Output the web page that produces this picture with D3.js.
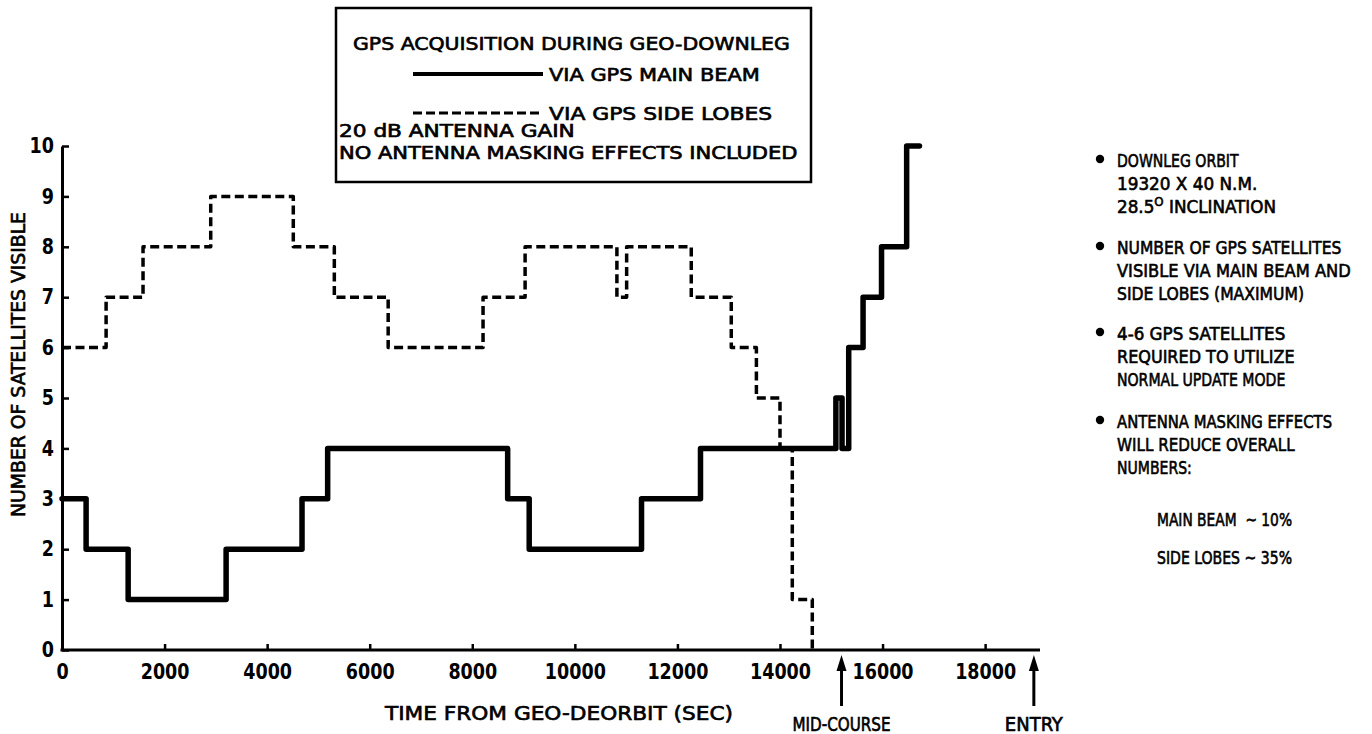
<!DOCTYPE html>
<html><head><meta charset="utf-8">
<script src="https://cdn.jsdelivr.net/npm/d3@7"></script>
<style>
body{margin:0;background:#fff}
svg{display:block;background:#fff}
text{font-family:"DejaVu Sans Condensed","DejaVu Sans",sans-serif;fill:#000}
.thick{stroke:#000;stroke-width:0.6px}
</style>
</head><body><svg id="c" width="1372" height="734"></svg>
<script>
// ---------- data ----------
const xTicks = [0, 2000, 4000, 6000, 8000, 10000, 12000, 14000, 16000, 18000];
const yTicks = [0, 1, 2, 3, 4, 5, 6, 7, 8, 9, 10];
const mainTimes  = [0, 470, 1290, 3200, 4680, 5180, 8690, 9110, 11300, 12450, 15090, 15210, 15340, 15620, 15980, 16470, 16720];
const mainValues = [3, 2, 1, 2, 3, 4, 3, 2, 3, 4, 5, 4, 6, 7, 8, 10, 10];
const sideTimes  = [0, 860, 1580, 2900, 4510, 5310, 6360, 8210, 9030, 10820, 11010, 12270, 13050, 13540, 14000, 14240, 14630];
const sideValues = [6, 7, 8, 9, 8, 7, 6, 7, 8, 7, 8, 7, 6, 5, 4, 1, 0];
const markerTimes  = [15200, 18950];
const markerLabels = ["MID-COURSE", "ENTRY"];
const legendTitle = "GPS ACQUISITION DURING GEO-DOWNLEG";
const seriesNames = ["VIA GPS MAIN BEAM", "VIA GPS SIDE LOBES"];
const legendNotes = ["20 dB ANTENNA GAIN", "NO ANTENNA MASKING EFFECTS INCLUDED"];
const xTitle = "TIME FROM GEO-DEORBIT (SEC)";
const yTitle = "NUMBER OF SATELLITES VISIBLE";
const noteBlocks = [
  ["DOWNLEG ORBIT", "19320 X 40 N.M.", "28.5|O| INCLINATION"],
  ["NUMBER OF GPS SATELLITES", "VISIBLE VIA MAIN BEAM AND", "SIDE LOBES (MAXIMUM)"],
  ["4-6 GPS SATELLITES", "REQUIRED TO UTILIZE", "NORMAL UPDATE MODE"],
  ["ANTENNA MASKING EFFECTS", "WILL REDUCE OVERALL", "NUMBERS:"]
];
const reductionLines = ["MAIN BEAM  ~ 10%", "SIDE LOBES ~ 35%"];

// ---------- layout ----------
const svg = d3.select("#c");
const x = d3.scaleLinear().domain([0, 19070]).range([62, 1040]);
const y = d3.scaleLinear().domain([0, 10]).range([650, 146]);

// axes
const gx = svg.append("g").attr("transform", `translate(0,${y(0)})`)
  .call(d3.axisBottom(x).tickValues(xTicks).tickFormat(d3.format("d")).tickSizeInner(-6).tickSizeOuter(0).tickPadding(14));
const gy = svg.append("g").attr("transform", `translate(${x(0)},0)`)
  .call(d3.axisLeft(y).tickValues(yTicks).tickFormat(d3.format("d")).tickSizeInner(-7).tickSizeOuter(0).tickPadding(8));
[gx, gy].forEach(g => {
  g.select(".domain").attr("stroke", "#000").attr("stroke-width", 3);
  g.selectAll(".tick line").attr("stroke", "#000").attr("stroke-width", 2.5);
  g.selectAll(".tick text").attr("font-family", '"DejaVu Sans Condensed","DejaVu Sans",sans-serif')
    .attr("font-size", 21).attr("font-weight", "bold").attr("fill", "#000")
    .attr("textLength", d => String(d).length * 12.2).attr("lengthAdjust", "spacingAndGlyphs");
});
gx.select(".domain").attr("d", `M${x(0) - 1.5},0H${x.range()[1]}`);

// series
const lineGen = d3.line().x(d => x(d[0])).y(d => y(d[1])).curve(d3.curveStepAfter);
const sidePts = sideTimes.map((t, i) => [t, sideValues[i]]);
const mainPts = mainTimes.map((t, i) => [t, mainValues[i]]);
svg.append("path").attr("d", lineGen(sidePts)).attr("fill", "none").attr("stroke", "#000")
  .attr("stroke-width", 3.5).attr("stroke-dasharray", "9,4.5").attr("stroke-linejoin", "round");
svg.append("path").attr("d", lineGen(mainPts)).attr("fill", "none").attr("stroke", "#000")
  .attr("stroke-width", 5.5).attr("stroke-linejoin", "round").attr("stroke-linecap", "round");

// axis titles
svg.append("text").attr("class", "thick").attr("x", 385).attr("y", 720).attr("font-size", 20)
  .attr("textLength", 348).attr("lengthAdjust", "spacingAndGlyphs").text(xTitle);
svg.append("text").attr("class", "thick").attr("transform", "translate(25,517) rotate(-90)")
  .attr("font-size", 19).attr("textLength", 305).attr("lengthAdjust", "spacingAndGlyphs").text(yTitle);

// markers
const markerW = [98, 58];
markerTimes.forEach((t, i) => {
  const mx = x(t);
  svg.append("line").attr("x1", mx).attr("x2", mx).attr("y1", 706).attr("y2", 668)
    .attr("stroke", "#000").attr("stroke-width", 3);
  svg.append("path").attr("d", `M${mx},655L${mx - 5},671L${mx + 5},671Z`).attr("fill", "#000");
  svg.append("text").attr("class", "thick").attr("x", mx).attr("y", 731).attr("text-anchor", "middle")
    .attr("font-size", 19).attr("textLength", markerW[i]).attr("lengthAdjust", "spacingAndGlyphs")
    .text(markerLabels[i]);
});

// legend box
const lg = svg.append("g");
lg.append("rect").attr("x", 336).attr("y", 8).attr("width", 475).attr("height", 174)
  .attr("fill", "#fff").attr("stroke", "#000").attr("stroke-width", 2.5);
const lch = 12.85;
lg.append("text").attr("class", "thick").attr("x", 353).attr("y", 50).attr("font-size", 18.5)
  .attr("textLength", legendTitle.length * lch).attr("lengthAdjust", "spacingAndGlyphs").text(legendTitle);
const legY = [74, 113];
seriesNames.forEach((s, i) => {
  lg.append("line").attr("x1", 413).attr("x2", 543).attr("y1", legY[i]).attr("y2", legY[i])
    .attr("stroke", "#000").attr("stroke-width", i === 0 ? 4 : 3)
    .attr("stroke-dasharray", i === 0 ? null : "9,4");
  lg.append("text").attr("class", "thick").attr("x", 549).attr("y", legY[i] + 7).attr("font-size", 18.5)
    .attr("textLength", s.length * 12.4).attr("lengthAdjust", "spacingAndGlyphs").text(s);
});
const noteY = [137, 159];
legendNotes.forEach((s, i) => {
  lg.append("text").attr("class", "thick").attr("x", 339).attr("y", noteY[i]).attr("font-size", 17.5)
    .attr("textLength", s.length * 13.1).attr("lengthAdjust", "spacingAndGlyphs").text(s);
});

// right-hand notes
const nch = 9.35, lineH = 23.3;
const blockY = [159, 246, 332, 420];
noteBlocks.forEach((blk, b) => {
  svg.append("circle").attr("cx", 1100).attr("cy", blockY[b]).attr("r", 4.2).attr("fill", "#000");
  blk.forEach((ln, j) => {
    const parts = ln.split("|");
    const plain = parts.join("");
    const t = svg.append("text").attr("class", "thick").attr("x", 1117).attr("y", blockY[b] + j * lineH + 7.5)
      .attr("font-size", 18.5).attr("textLength", plain.length * nch).attr("lengthAdjust", "spacingAndGlyphs");
    if (parts.length === 1) t.text(ln);
    else {
      t.append("tspan").text(parts[0]);
      t.append("tspan").attr("dy", -7).attr("font-size", 13).text(parts[1]);
      t.append("tspan").attr("dy", 7).text(parts[2]);
    }
  });
});
const redY = [518, 556];
reductionLines.forEach((s, i) => {
  svg.append("text").attr("class", "thick").attr("x", 1157).attr("y", redY[i] + 7.5).attr("font-size", 18.5)
    .attr("xml:space", "preserve").style("white-space", "pre")
    .attr("textLength", 135).attr("lengthAdjust", "spacingAndGlyphs").text(s);
});
</script>
</body></html>
